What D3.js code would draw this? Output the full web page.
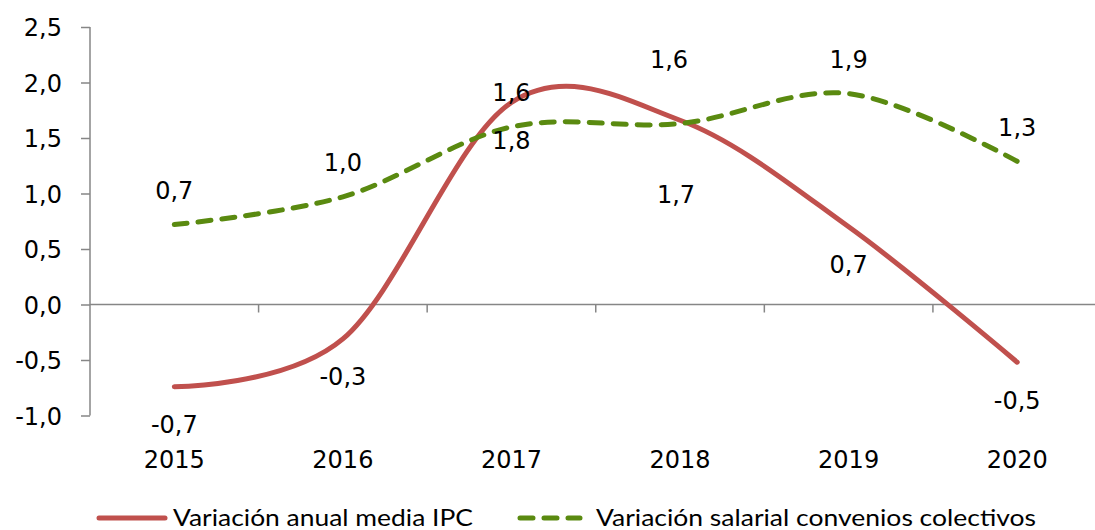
<!DOCTYPE html>
<html>
<head>
<meta charset="utf-8">
<script src="https://cdn.jsdelivr.net/npm/d3@7"></script>
<style>
  html, body { margin: 0; padding: 0; background: #fff; }
  svg { display: block; }
  text { font-family: "DejaVu Sans", sans-serif; fill: #000; }
</style>
</head>
<body>
<svg id="chart" width="1095" height="530"></svg>
<script>
// ---- data ----
const categories = ["2015", "2016", "2017", "2018", "2019", "2020"];
const ipcValues = [-0.74, -0.31, 1.82, 1.66, 0.70, -0.52];
const salaryValues = [0.72, 0.97, 1.60, 1.63, 1.90, 1.29];
const ipcLabels = ["-0,7", "-0,3", "1,8", "1,7", "0,7", "-0,5"];
const salaryLabels = ["0,7", "1,0", "1,6", "1,6", "1,9", "1,3"];
const yTickValues = [-1.0, -0.5, 0.0, 0.5, 1.0, 1.5, 2.0, 2.5];
const seriesNames = ["Variación anual media IPC", "Variación salarial convenios colectivos"];

// ---- layout ----
const svg = d3.select("#chart");
const axisColor = "#868686";
const redColor = "#C0504D";
const greenColor = "#5A8A10";
const plot = { left: 90, right: 1101.5, top: 27, bottom: 415.5 };

const x = d3.scaleBand().domain(categories).range([plot.left, plot.right]).padding(0);
const y = d3.scaleLinear().domain([-1, 2.5]).range([plot.bottom, plot.top]);
const cx = c => x(c) + x.bandwidth() / 2;

// y axis
const yAxis = d3.axisLeft(y).tickValues(yTickValues).tickSize(9).tickPadding(0)
  .tickFormat(d => d3.format(".1f")(d).replace(".", ",").replace("−", "-"));
const gy = svg.append("g").attr("transform", `translate(${plot.left},0)`).call(yAxis);
gy.select(".domain").attr("stroke", axisColor).attr("stroke-width", 1.5)
  .attr("d", `M0,${plot.top}V${plot.bottom}`);
gy.selectAll(".tick line").attr("stroke", axisColor).attr("stroke-width", 1.5);
gy.selectAll(".tick text")
  .attr("x", -28).attr("dy", null).attr("y", 8.5)
  .attr("text-anchor", "end")
  .style("font-family", "DejaVu Sans").style("font-size", "24px").attr("fill", "#000");

// x axis on zero line (ticks between categories)
const gx = svg.append("g").attr("transform", `translate(0,${y(0)})`);
gx.append("line").attr("x1", plot.left).attr("x2", 1095).attr("y1", 0).attr("y2", 0)
  .attr("stroke", axisColor).attr("stroke-width", 1.5);
const boundaries = categories.slice(1).map(c => x(c));
gx.selectAll("line.tk").data(boundaries).enter().append("line").attr("class", "tk")
  .attr("x1", d => d).attr("x2", d => d).attr("y1", 0).attr("y2", 8)
  .attr("stroke", axisColor).attr("stroke-width", 1.5);

// category labels at bottom
svg.append("g").selectAll("text").data(categories).enter().append("text")
  .attr("x", d => cx(d)).attr("y", 468).attr("text-anchor", "middle")
  .style("font-size", "24px").text(d => d);

// lines
const line = d3.line().x((d, i) => cx(categories[i])).y(d => y(d)).curve(d3.curveCardinal.tension(0));
svg.append("path").datum(ipcValues).attr("d", line)
  .attr("fill", "none").attr("stroke", redColor).attr("stroke-width", 5).attr("stroke-linecap", "round");
svg.append("path").datum(salaryValues).attr("d", line)
  .attr("fill", "none").attr("stroke", greenColor).attr("stroke-width", 5)
  .attr("stroke-linecap", "round").attr("stroke-dasharray", "13,11");

// data labels
const nudgeSalary = { "2018": [-11, -30] };
const nudgeIpc = { "2018": [-4, 36] };
svg.append("g").selectAll("text").data(salaryValues).enter().append("text")
  .attr("x", (d, i) => cx(categories[i]) + ((nudgeSalary[categories[i]] || [0, 0])[0]))
  .attr("y", (d, i) => y(d) - 34 + 8.5 + ((nudgeSalary[categories[i]] || [0, 0])[1]))
  .attr("text-anchor", "middle").style("font-size", "24px")
  .text((d, i) => salaryLabels[i]);
svg.append("g").selectAll("text").data(ipcValues).enter().append("text")
  .attr("x", (d, i) => cx(categories[i]) + ((nudgeIpc[categories[i]] || [0, 0])[0]))
  .attr("y", (d, i) => y(d) + 38 + 8.5 + ((nudgeIpc[categories[i]] || [0, 0])[1]))
  .attr("text-anchor", "middle").style("font-size", "24px")
  .text((d, i) => ipcLabels[i]);

// legend
const lg = svg.append("g");
lg.append("line").attr("x1", 99).attr("x2", 165).attr("y1", 518).attr("y2", 518)
  .attr("stroke", redColor).attr("stroke-width", 5).attr("stroke-linecap", "round");
lg.append("text").attr("x", 173).attr("y", 526)
  .style("font-family", "Lato").style("font-size", "23px")
  .attr("textLength", 300).attr("lengthAdjust", "spacingAndGlyphs")
  .text(seriesNames[0]);
lg.append("line").attr("x1", 520).attr("x2", 580).attr("y1", 518).attr("y2", 518)
  .attr("stroke", greenColor).attr("stroke-width", 5).attr("stroke-linecap", "round")
  .attr("stroke-dasharray", "13,11");
lg.append("text").attr("x", 596).attr("y", 526)
  .style("font-family", "Lato").style("font-size", "23px")
  .attr("textLength", 440).attr("lengthAdjust", "spacingAndGlyphs")
  .text(seriesNames[1]);
</script>
</body>
</html>
